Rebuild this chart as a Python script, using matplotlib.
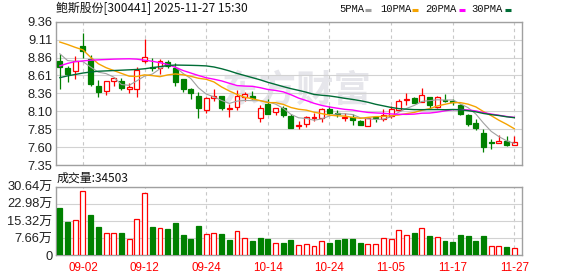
import numpy as np
import pandas as pd
import matplotlib
matplotlib.use('Agg')
import matplotlib.pyplot as plt
from matplotlib.lines import Line2D

# ---------------- data ----------------
dates = ['08-28', '08-29', '09-01', '09-02', '09-03', '09-04', '09-05', '09-08', '09-09', '09-10',
         '09-11', '09-12', '09-15', '09-16', '09-17', '09-18', '09-19', '09-22', '09-23', '09-24',
         '09-25', '09-26', '09-29', '09-30', '10-09', '10-10', '10-13', '10-14', '10-15', '10-16',
         '10-17', '10-20', '10-21', '10-22', '10-23', '10-24', '10-27', '10-28', '10-29', '10-30',
         '10-31', '11-03', '11-04', '11-05', '11-06', '11-07', '11-10', '11-11', '11-12', '11-13',
         '11-14', '11-17', '11-18', '11-19', '11-20', '11-21', '11-24', '11-25', '11-26', '11-27']

open_ = [8.81, 8.71, 8.67, 9.02, 8.83, 8.46, 8.39, 8.53, 8.53, 8.42,
         8.415, 8.815, 8.72, 8.71, 8.80, 8.71, 8.55, 8.41, 8.32, 8.12,
         8.285, 8.315, 8.14, 8.165, 8.31, 8.32, 8.005, 8.21, 8.10, 8.145,
         8.04, 7.90, 7.92, 8.005, 8.005, 8.14, 8.075, 8.01, 8.025, 7.97,
         7.895, 8.03, 7.99, 8.035, 8.115, 8.255, 8.295, 8.24, 8.305, 8.165,
         8.255, 8.25, 8.19, 8.05, 7.945, 7.805, 7.67, 7.66, 7.685, 7.625]
high = [8.91, 8.745, 8.875, 9.20, 8.89, 8.54, 8.53, 8.59, 8.57, 8.50,
        8.72, 9.12, 8.85, 8.835, 8.825, 8.78, 8.55, 8.435, 8.38, 8.30,
        8.42, 8.32, 8.21, 8.40, 8.38, 8.39, 8.19, 8.27, 8.155, 8.18,
        8.06, 7.97, 8.035, 8.085, 8.155, 8.18, 8.12, 8.075, 8.06, 7.975,
        8.02, 8.04, 8.135, 8.18, 8.28, 8.36, 8.30, 8.435, 8.305, 8.32,
        8.34, 8.27, 8.21, 8.06, 7.99, 7.86, 7.71, 7.775, 7.75, 7.75]
low = [8.41, 8.51, 8.56, 8.85, 8.465, 8.31, 8.33, 8.465, 8.40, 8.355,
       8.31, 8.78, 8.675, 8.62, 8.71, 8.465, 8.38, 8.27, 8.005, 8.075,
       8.25, 8.12, 8.03, 8.12, 8.25, 8.27, 7.95, 8.06, 8.05, 8.03,
       7.865, 7.86, 7.89, 7.97, 7.96, 8.06, 8.03, 7.965, 7.91, 7.91,
       7.895, 7.95, 7.97, 8.005, 8.11, 8.19, 8.22, 8.23, 8.155, 8.145,
       8.235, 8.19, 8.045, 7.90, 7.84, 7.535, 7.57, 7.66, 7.62, 7.625]
close = [8.73, 8.63, 8.815, 8.955, 8.49, 8.37, 8.53, 8.57, 8.43, 8.44,
         8.685, 8.86, 8.71, 8.805, 8.735, 8.51, 8.41, 8.355, 8.155, 8.295,
         8.315, 8.155, 8.15, 8.315, 8.345, 8.295, 8.155, 8.07, 8.155, 8.05,
         7.875, 7.91, 8.025, 8.03, 8.14, 8.085, 8.06, 8.03, 7.975, 7.915,
         8.01, 8.015, 8.05, 8.135, 8.245, 8.27, 8.225, 8.335, 8.19, 8.305,
         8.245, 8.24, 8.06, 7.92, 7.865, 7.605, 7.66, 7.69, 7.63, 7.675]

# volume in 万 (10k lots)
volume = [21.1, 14.9, 15.6, 28.6, 18.0, 12.6, 9.8, 9.8, 10.0, 7.1,
          16.1, 27.7, 12.6, 12.0, 11.7, 14.4, 9.1, 7.3, 13.1, 9.4,
          9.8, 9.5, 6.8, 10.7, 7.6, 6.4, 7.7, 7.3, 5.4, 5.5,
          6.8, 4.5, 4.9, 4.2, 6.2, 5.5, 6.8, 7.3, 7.3, 5.5,
          4.9, 4.9, 7.6, 7.1, 11.3, 8.9, 9.8, 12.0, 8.6, 8.0,
          6.4, 5.9, 9.1, 8.6, 6.4, 8.6, 4.3, 4.2, 3.7, 3.4503]
vol_up = [0, 0, 1, 1, 0, 0, 1, 1, 0, 1,
          1, 1, 0, 1, 0, 0, 0, 0, 0, 1,
          1, 0, 0, 1, 1, 0, 0, 0, 1, 0,
          0, 1, 1, 1, 1, 0, 0, 0, 0, 0,
          1, 1, 1, 1, 1, 1, 0, 1, 0, 1,
          0, 0, 0, 0, 0, 0, 1, 1, 0, 1]
last_volume = 34503

# moving-average values before enough closes exist
ma5_head = [8.91, 8.815, 8.805, 8.80]
ma10_head = [9.075, 9.04, 9.00, 8.965, 8.86, 8.77, 8.715, 8.675, 8.635]
ma20_head = [8.74, 8.775, 8.80, 8.81, 8.82, 8.825, 8.83, 8.835, 8.838, 8.84,
             8.835, 8.82, 8.805, 8.785, 8.76, 8.72, 8.675, 8.64, 8.605]
ma30_head = [8.575, 8.60, 8.62, 8.64, 8.655, 8.665, 8.67, 8.675, 8.68, 8.685,
             8.69, 8.70, 8.715, 8.73, 8.745, 8.752, 8.75, 8.748, 8.745, 8.74,
             8.725, 8.70, 8.67, 8.635, 8.605, 8.575, 8.545, 8.51, 8.48]

price_tick_labels = ['7.35', '7.60', '7.85', '8.10', '8.36', '8.61', '8.86', '9.11', '9.36']
price_min, price_max = 7.35, 9.36
vol_tick_labels = ['0', '7.66万', '15.32万', '22.98万', '30.64万']
vol_max = 30.64
date_ticks = ['09-02', '09-12', '09-24', '10-14', '10-24', '11-05', '11-17', '11-27']

title = '鲍斯股份[300441] 2025-11-27 15:30'
ma_names = ['5PMA', '10PMA', '20PMA', '30PMA']

# ---------------- style ----------------
RED = '#ff0000'
GREEN = '#008000'
MA_COLORS = ['#a0a0a0', '#f5a300', '#ff00ff', '#006d36']
GRID = '#d2d2d2'
SPINE = '#a0a0a0'
CJK = ['Noto Sans CJK SC', 'DejaVu Sans']
LAT = ['Liberation Sans', 'Noto Sans CJK SC', 'DejaVu Sans']

W, H = 578, 276
fig = plt.figure(figsize=(W / 100, H / 100), dpi=100)


def fx(px):
    return px / W


def fy(py):
    return 1 - py / H


ax = fig.add_axes([fx(56), fy(165), fx(466), 143.3 / H])
axv = fig.add_axes([fx(56), fy(255.3), fx(466), 68.6 / H])

n = len(close)
x = np.arange(n)
o = np.array(open_)
c = np.array(close)
hi = np.array(high)
lo = np.array(low)
up = c >= o
w = 0.64


def moving_average(period, head):
    s = pd.Series(close).rolling(period).mean().to_numpy()
    s[:period - 1] = head
    return s


mas = [moving_average(5, ma5_head), moving_average(10, ma10_head),
       moving_average(20, ma20_head), moving_average(30, ma30_head)]

for a in (ax, axv):
    a.set_xlim(-0.5, 60.0)
    for s in a.spines.values():
        s.set_color(SPINE)
        s.set_linewidth(1.0)
    a.tick_params(length=0, colors='#222222')
    tick_pos = [dates.index(d) for d in date_ticks]
    a.set_xticks(tick_pos)
    a.grid(axis='x', color='#c8c8c8', linestyle=(0, (3, 3)), linewidth=0.8)
    a.grid(axis='y', color=GRID, linestyle='-', linewidth=0.8)
    a.set_axisbelow(True)

# price panel
ax.set_ylim(price_min, price_max)
ax.set_yticks(np.linspace(price_min, price_max, len(price_tick_labels)))
ax.set_yticklabels(price_tick_labels, fontsize=9.3, family=LAT)
ax.set_xticklabels([])
ax.tick_params(axis='y', pad=2.5)

body_bottom = np.minimum(o, c)
body_h = np.maximum(np.abs(c - o), 0.004)
cols = np.where(up, RED, GREEN)
faces = np.where(up, 'white', GREEN)
ax.vlines(x, lo, hi, colors=cols, linewidth=0.9, zorder=2)
ax.bar(x, body_h, bottom=body_bottom, width=w, color=faces, edgecolor=cols,
       linewidth=0.9, zorder=3)

for m, col in zip(mas, MA_COLORS):
    ax.plot(x, m, color=col, linewidth=1.0 if col != MA_COLORS[0] else 0.8, zorder=4)

# watermark
fig.text(fx(297), fy(91), '东方财富', family=CJK, fontsize=27, color='#e6e6eb',
         ha='center', va='center', fontweight='bold', zorder=0.5)
fig.patches  # noqa
ax.patch.set_alpha(0)
ax.set_zorder(1)

# volume panel
vu = np.array(vol_up).astype(bool)
vcols = np.where(vu, RED, GREEN)
vfaces = np.where(vu, 'white', GREEN)
axv.bar(x, volume, width=w, color=vfaces, edgecolor=vcols, linewidth=0.9, zorder=3)
axv.set_ylim(0, vol_max)
axv.set_yticks(np.linspace(0, vol_max, len(vol_tick_labels)))
axv.set_yticklabels(vol_tick_labels, fontsize=9.3, family=LAT)
axv.set_xticklabels(date_ticks, fontsize=8.4, family=LAT, color=RED)
axv.tick_params(axis='y', pad=2.5)
axv.tick_params(axis='x', pad=4.5)

# texts
fig.text(fx(56), fy(8.5), title, family=CJK, fontsize=8.6, color='#111111',
         ha='left', va='center')
fig.text(fx(57), fy(178), f'成交量:{last_volume}', family=CJK, fontsize=8.6,
         color='#111111', ha='left', va='center')

leg_x = [339, 380, 425, 471]
dash_x = [365, 412, 459, 505]
for name, lx, dx, col in zip(ma_names, leg_x, dash_x, MA_COLORS):
    fig.text(fx(lx), fy(9), name, family=['Liberation Mono', 'DejaVu Sans Mono'],
             fontsize=7.6, color='#111111', ha='left', va='center')
    fig.add_artist(Line2D([fx(dx), fx(dx + 6)], [fy(9.5), fy(9.5)], color=col,
                          linewidth=2.2, solid_capstyle='butt', transform=fig.transFigure))

fig.savefig('out.png', dpi=100)
